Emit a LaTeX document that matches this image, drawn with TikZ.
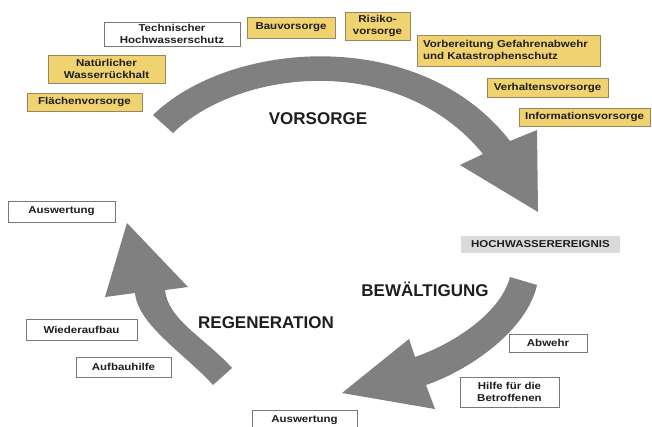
\documentclass[tikz,border=0pt]{standalone}
\usepackage{fontspec}
\setmainfont{Liberation Sans}
\newfontfamily\bx[FakeStretch=1.15]{Liberation Sans}
\definecolor{arr}{RGB}{128,128,128}
\definecolor{yel}{RGB}{241,210,112}
\definecolor{yelb}{RGB}{150,135,95}
\definecolor{boxb}{RGB}{120,120,120}
\definecolor{hwg}{RGB}{218,218,218}
\definecolor{txt}{RGB}{30,30,30}
\tikzset{
 basebox/.style={inner sep=0pt, align=center, font=\bx\bfseries\fontsize{10}{12}\selectfont, text=txt, line width=0.8pt},
 ybox/.style={basebox, fill=yel, draw=yelb},
 wbox/.style={basebox, fill=white, draw=boxb},
 gbox/.style={basebox, fill=hwg},
 phase/.style={font=\bfseries\fontsize{17}{20}\selectfont, text=txt},
 bigarrow/.style={fill=arr},
}
\begin{document}
\begin{tikzpicture}[x=1pt,y=-1pt]
\useasboundingbox[fill=white] (0,0) rectangle (652,426);
% arrows
\fill[bigarrow] (153,115) .. controls (230,40) and (420,25) .. (510,141) -- (537,130) -- (538,212) -- (460,165) -- (483,154) .. controls (400,52) and (240,68) .. (173,133) -- cycle;
\fill[bigarrow] (510,277) .. controls (500,315) and (450,345) .. (415,357) -- (409,339) -- (342,393) -- (435,409) -- (426,385) .. controls (470,370) and (527,330) .. (537,285) -- cycle;
\fill[bigarrow] (213,385) .. controls (185,354) and (138,325) .. (135,293) -- (105,297) -- (127,223) -- (188,287) -- (165,290) .. controls (168,320) and (205,338) .. (232,368) -- cycle;
% phase labels
\node[phase] (vor) at (318,119) {VORSORGE};
\node[phase] (bew) at (425,289) {BEWÄLTIGUNG};
\node[phase] (reg) at (266,323) {REGENERATION};
% boxes
\node[wbox, minimum width=136pt, minimum height=24pt] (tech) at (172,34) {Technischer\\Hochwasserschutz};
\node[ybox, minimum width=88pt, minimum height=21pt] (bau) at (291,27.5) {Bauvorsorge};
\node[ybox, minimum width=65pt, minimum height=28pt] (risk) at (377.5,26) {Risiko-\\vorsorge};
\node[ybox, text width=171pt, align=left, inner xsep=6pt, minimum height=31pt] (vorb) at (508.5,50.5) {Vorbereitung Gefahrenabwehr\\und Katastrophenschutz};
\node[ybox, minimum width=121pt, minimum height=19pt] (verh) at (547.5,87.5) {Verhaltensvorsorge};
\node[ybox, minimum width=131pt, minimum height=18pt] (info) at (584.5,117) {Informationsvorsorge};
\node[ybox, minimum width=117pt, minimum height=28pt] (natur) at (106.5,69) {Natürlicher\\Wasserrückhalt};
\node[ybox, minimum width=115pt, minimum height=18pt] (flae) at (84.5,102) {Flächenvorsorge};
\node[wbox, minimum width=107pt, minimum height=21pt] (ausw1) at (61.5,211.5) {Auswertung};
\node[gbox, minimum width=159pt, minimum height=17pt] (hw) at (540.5,244.5) {HOCHWASSEREREIGNIS};
\node[wbox, minimum width=111pt, minimum height=21pt] (wied) at (81.5,329.5) {Wiederaufbau};
\node[wbox, minimum width=95pt, minimum height=20pt] (aufb) at (123.5,367) {Aufbauhilfe};
\node[wbox, minimum width=78pt, minimum height=18pt] (abw) at (548,343) {Abwehr};
\node[wbox, minimum width=99pt, minimum height=30pt] (hilfe) at (509.5,392) {Hilfe für die\\Betroffenen};
\node[wbox, minimum width=105pt, minimum height=21pt] (ausw2) at (304.5,420.5) {Auswertung};
\end{tikzpicture}
\end{document}
